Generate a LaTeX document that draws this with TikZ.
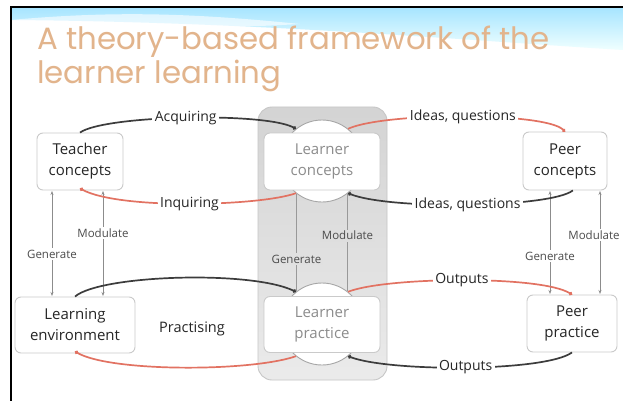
\documentclass[tikz,border=0pt]{standalone}
\usepackage{fontspec}
\setmainfont{Open Sans}
\newfontfamily\titlefont{Poppins}
\usetikzlibrary{arrows.meta}
\definecolor{titlecol}{HTML}{E2B48C}
\definecolor{redline}{HTML}{E27262}
\definecolor{darkline}{HTML}{3C3C3C}
\definecolor{boxline}{HTML}{CACACA}
\definecolor{contfill}{HTML}{E4E4E4}
\definecolor{contline}{HTML}{C6C6C6}
\definecolor{sideline}{HTML}{8C8C8C}
\tikzset{
  box/.style={draw=boxline, line width=0.9pt, fill=white, rounded corners=6pt, align=center,
    font=\fontsize{15}{21}\selectfont, text=black!85, inner sep=0pt},
  lbox/.style={box, text=black!45},
  bump/.style={circle, draw=black!35, line width=0.9pt, fill=white, minimum size=82pt, inner sep=0pt},
  lab/.style={fill=white, inner sep=2.5pt, font=\fontsize{14}{16}\selectfont, text=black!85},
  slab/.style={fill=white, inner sep=1.5pt, font=\fontsize{11.5}{13}\selectfont, text=black!70},
  clab/.style={slab, fill=contfill},
  blk/.style={draw=darkline, line width=1.7pt, -{Circle[length=3.5pt]}},
  redc/.style={draw=redline, line width=1.7pt, -{Circle[length=3.5pt]}},
  side/.style={draw=sideline, line width=0.8pt, {Stealth[length=4pt,width=3pt]}-{Stealth[length=4pt,width=3pt]}},
  cline/.style={draw=black!40, line width=0.9pt},
  ttl/.style={font=\titlefont\fontsize{30.8}{34}\selectfont, text=titlecol, inner sep=0pt, anchor=base west}
}
\begin{document}
\begin{tikzpicture}[x=1pt,y=-1pt]
\clip (0,0) rectangle (623,401);
\fill[white] (0,0) rectangle (623,401);
% blue header band
\shade[top color=blue!30!cyan!35!white, bottom color=cyan!6!white]
  (11,7) -- (623,7) -- (623,50) .. controls (460,40) and (260,22) .. (11,20) -- cycle;
\fill[white, opacity=0.6] (11,20) .. controls (120,10) and (200,14) .. (300,24) .. controls (200,30) and (100,28) .. (11,24) -- cycle;
% frame
\draw[black, line width=2pt] (11,401) -- (11,7) -- (623,7);
% title
\node[ttl] (title1) at (37,50) {A theory-based framework of the};
\node[ttl] (title2) at (37,84) {learner learning};
% central container
\shade[top color=black!17, bottom color=black!8, draw=contline, line width=0.9pt, rounded corners=14pt] (258,107) rectangle (387,380);
% bumps
\node[bump] (lcC) at (322,161) {};
\node[bump] (lpC) at (322,324) {};
% boxes
\node[box, minimum width=86pt, minimum height=57pt] (tc) at (80,161.5) {Teacher\\concepts};
\node[lbox, minimum width=116pt, minimum height=57pt] (lc) at (322,161.5) {Learner\\concepts};
\node[box, minimum width=84pt, minimum height=58pt] (pc) at (565,161) {Peer\\concepts};
\node[box, minimum width=120pt, minimum height=56pt] (le) at (75,325) {Learning\\environment};
\node[lbox, minimum width=116pt, minimum height=56pt] (lp) at (322,324.5) {Learner\\practice};
\node[box, minimum width=90pt, minimum height=57pt] (pp) at (572,323.5) {Peer\\practice};
\node[font=\fontsize{14.5}{16}\selectfont, text=black!85] (prac) at (192,329) {Practising};
% side coordinates
\path (52,191) coordinate (tg1) (52,296) coordinate (tg2)
      (103,191) coordinate (tm1) (103,296) coordinate (tm2)
      (550,191) coordinate (pg1) (550,294) coordinate (pg2)
      (600,191) coordinate (pm1) (600,294) coordinate (pm2);
\draw[side] (tg1) -- node[slab, pos=.6] (tgl) {Generate} (tg2);
\draw[side] (tm1) -- node[slab, pos=.4] (tml) {Modulate} (tm2);
\draw[side] (pg1) -- node[slab, pos=.63] (pgl) {Generate} (pg2);
\draw[side] (pm1) -- node[slab, pos=.43, xshift=-6pt] (pml) {Modulate} (pm2);
% centre lines
\draw[cline] (lcC.-128) -- node[clab, fill=black!12, pos=.67] (cgl) {Generate} (lpC.128);
\draw[cline] (lcC.-52) -- node[clab, fill=black!13, pos=.43] (cml) {Modulate} (lpC.52);
% connectors
\draw[blk] (tc.north) .. controls (105,115) and (265,112) .. node[lab, pos=.5] (acq) {Acquiring} (lcC.129);
\draw[redc] (lcC.-129) .. controls (260,206) and (120,210) .. node[lab, pos=.5] (inq) {Inquiring} ([yshift=2pt]tc.south);
\draw[redc] (lcC.51) .. controls (385,112) and (545,112) .. node[lab, pos=.5] (iq1) {Ideas, questions} (pc.north);
\draw[blk] (pc.-75) .. controls (550,208) and (390,210) .. node[lab, pos=.5] (iq2) {Ideas, questions} (lcC.-51);
\draw[blk] (le.north) .. controls (100,275) and (250,270) .. (lpC.129);
\draw[redc] (lpC.-129) .. controls (250,372) and (110,372) .. ([yshift=2pt]le.south);
\draw[redc] (lpC.51) .. controls (385,277) and (540,275) .. node[lab, pos=.5] (out1) {Outputs} (pp.north);
\draw[blk] (pp.south) .. controls (545,372) and (390,372) .. node[lab, pos=.5] (out2) {Outputs} (lpC.-51);
\end{tikzpicture}
\end{document}
